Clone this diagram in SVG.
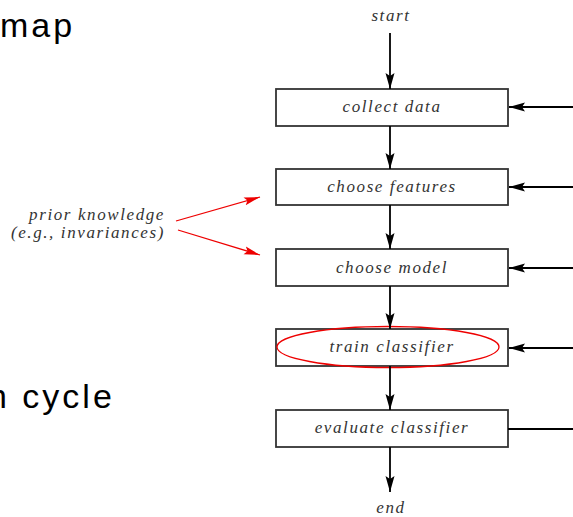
<svg xmlns="http://www.w3.org/2000/svg" width="573" height="517" viewBox="0 0 573 517">
<defs>
<style>
.big{font-family:"Liberation Sans",Arial,sans-serif;font-size:34px;fill:#000;letter-spacing:3px}
.lbl{font-family:"Liberation Serif","Times New Roman",serif;font-style:italic;font-size:17px;fill:#333;letter-spacing:1.6px}
.box{fill:#fff;stroke:#333;stroke-width:1.8}
.ln{stroke:#000;stroke-width:1.8;fill:none}
.red{stroke:#e00;stroke-width:1.3;fill:none}
</style>
<marker id="ah" viewBox="0 0 16 12" refX="16" refY="6" markerWidth="16" markerHeight="12" markerUnits="userSpaceOnUse" orient="auto">
<path d="M0,1.5 L16,6 L0,10.5 L3,6 Z" fill="#000"/>
</marker>
<marker id="ahr" viewBox="0 0 16 10" refX="16" refY="5" markerWidth="16" markerHeight="10" markerUnits="userSpaceOnUse" orient="auto">
<path d="M0,1 L16,5 L0,9 L3,5 Z" fill="#e00"/>
</marker>
</defs>
<rect width="573" height="517" fill="#fff"/>
<text class="big" x="0" y="37">map</text>
<text class="big" x="-12" y="408">n cycle</text>
<g id="start"><text class="lbl" x="391" y="21" text-anchor="middle">start</text></g>
<g id="end"><text class="lbl" x="391" y="513" text-anchor="middle">end</text></g>
<g id="prior"><text class="lbl" x="165" y="220" text-anchor="end">prior knowledge</text><text class="lbl" x="165" y="238" text-anchor="end">(e.g., invariances)</text></g>
<g id="n1"><rect class="box" x="276" y="89" width="232" height="37"/><text class="lbl" x="392" y="112" text-anchor="middle">collect data</text></g>
<g id="n2"><rect class="box" x="276" y="169" width="232" height="36"/><text class="lbl" x="392" y="192" text-anchor="middle">choose features</text></g>
<g id="n3"><rect class="box" x="276" y="249" width="232" height="37"/><text class="lbl" x="392" y="273" text-anchor="middle">choose model</text></g>
<g id="n4"><rect class="box" x="276" y="329" width="232" height="37"/><ellipse class="red" cx="388" cy="347" rx="111" ry="20.5"/><text class="lbl" x="392" y="352" text-anchor="middle">train classifier</text></g>
<g id="n5"><rect class="box" x="276" y="410" width="232" height="37"/><text class="lbl" x="392" y="433" text-anchor="middle">evaluate classifier</text></g>
<g id="connectors">
<line class="ln" x1="390" y1="33" x2="390" y2="89" marker-end="url(#ah)"/>
<line class="ln" x1="390" y1="126" x2="390" y2="169" marker-end="url(#ah)"/>
<line class="ln" x1="390" y1="205" x2="390" y2="249" marker-end="url(#ah)"/>
<line class="ln" x1="390" y1="286" x2="390" y2="329" marker-end="url(#ah)"/>
<line class="ln" x1="390" y1="366" x2="390" y2="410" marker-end="url(#ah)"/>
<line class="ln" x1="390" y1="447" x2="390" y2="492" marker-end="url(#ah)"/>
<line class="ln" x1="573" y1="107" x2="509" y2="107" marker-end="url(#ah)"/>
<line class="ln" x1="573" y1="187" x2="509" y2="187" marker-end="url(#ah)"/>
<line class="ln" x1="573" y1="268" x2="509" y2="268" marker-end="url(#ah)"/>
<line class="ln" x1="573" y1="348" x2="509" y2="348" marker-end="url(#ah)"/>
<line class="ln" x1="508" y1="429" x2="573" y2="429"/>
<line class="red" x1="176" y1="221" x2="260" y2="197" marker-end="url(#ahr)"/>
<line class="red" x1="178" y1="230" x2="260" y2="255" marker-end="url(#ahr)"/>
</g>
</svg>
